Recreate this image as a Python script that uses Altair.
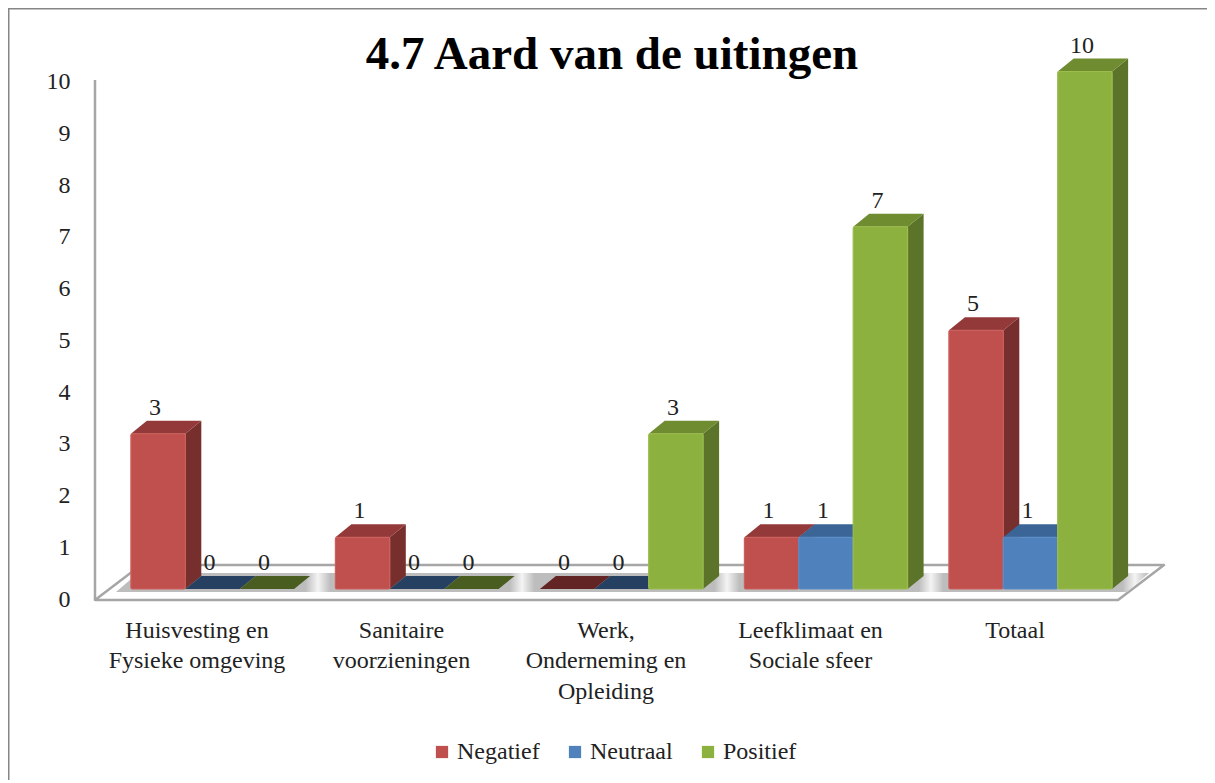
import json
import altair as alt
import pandas as pd

# --- values
TITLE = "4.7 Aard van de uitingen"
CATEGORIES = [
    ["Huisvesting en", "Fysieke omgeving"],
    ["Sanitaire", "voorzieningen"],
    ["Werk,", "Onderneming en", "Opleiding"],
    ["Leefklimaat en", "Sociale sfeer"],
    ["Totaal"],
]
SERIES = ["Negatief", "Neutraal", "Positief"]
NEGATIEF = [3, 1, 0, 1, 5]
NEUTRAAL = [0, 0, 0, 1, 1]
POSITIEF = [0, 0, 3, 7, 10]
VALUES = [NEGATIEF, NEUTRAAL, POSITIEF]

# --- styling
FRONT = ["#C0504D", "#4F81BD", "#8DB13F"]
EDGE = ["#CC5F5B", "#5A8CC6", "#9ABD4C"]
SIDE = ["#772F2D", "#2F5B8C", "#5C7429"]
TOP = ["#93393A", "#3B6497", "#6F8C30"]
ZERO = ["#632523", "#254061", "#4A5D20"]
FONT = "Liberation Serif"
TEXT = "#222222"
LINE = "#A6A6A6"

W, H = 1199, 772
GROUP_PX, UNIT_PX = 204.5, 51.75
BASE_X, BASE_Y = 212.5, 589          # picture position of group 0 / value 0


def ux(p):
    return (p - BASE_X) / GROUP_PX


def uy(p):
    return (BASE_Y - p) / UNIT_PX


xs = alt.Scale(domain=[ux(8), ux(8 + W)], nice=False, zero=False)
ys = alt.Scale(domain=[uy(8 + H), uy(8)], nice=False, zero=False)
BAR = 54.4 / GROUP_PX
DX, DY = 16 / GROUP_PX, 13 / UNIT_PX

fronts, sides, tops = [], [], []
for j, vals in enumerate(VALUES):
    for i, v in enumerate(vals):
        x0 = i + (j - 1.5) * BAR
        x1 = x0 + BAR
        bar = f"{j}-{i}"
        fronts.append(dict(series=SERIES[j], s=j, v=v, x0=x0, x1=x1, base=0,
                           lx=(x0 + x1) / 2 - 3 / GROUP_PX, ly=v + DY))
        sides += [dict(s=j, bar=bar, x=x1, a=0, b=v, v=v),
                  dict(s=j, bar=bar, x=x1 + DX, a=DY, b=v + DY, v=v)]
        tops += [dict(s=j, bar=bar, x=x0, a=v, b=v, z=v == 0),
                 dict(s=j, bar=bar, x=x0 + DX, a=v, b=v + DY, z=v == 0),
                 dict(s=j, bar=bar, x=x1, a=v, b=v + DY, z=v == 0),
                 dict(s=j, bar=bar, x=x1 + DX, a=v + DY, b=v + DY, z=v == 0)]
fronts, sides, tops = map(pd.DataFrame, (fronts, sides, tops))


def parallelogram(lx, rx, shift, y_front, y_back):
    return pd.DataFrame([
        dict(x=ux(lx), a=uy(y_front), b=uy(y_front)),
        dict(x=ux(lx + shift), a=uy(y_front), b=uy(y_back)),
        dict(x=ux(rx), a=uy(y_front), b=uy(y_back)),
        dict(x=ux(rx + shift), a=uy(y_back), b=uy(y_back)),
    ])


floor = parallelogram(95, 1118, 46, 600, 565)
band = parallelogram(116, 1127, 22, 592, 573)

# soft grey floor with light gaps between the bar groups
bx0, bx1 = 116, 1149
stops = [alt.GradientStop(color="#BDBDBD", offset=0)]
for cx in [318, 522, 727, 931, 1135]:
    t = (cx - bx0) / (bx1 - bx0)
    stops += [alt.GradientStop(color="#BDBDBD", offset=t - 0.012),
              alt.GradientStop(color="#F4F4F4", offset=t),
              alt.GradientStop(color="#BDBDBD", offset=min(t + 0.012, 1))]

x_axis = alt.Axis(
    values=list(range(len(CATEGORIES))),
    labelExpr=f"{json.dumps(CATEGORIES)}[datum.value]",
    title=None, domain=False, ticks=False, grid=False, orient="bottom",
    offset=-(H - 610), labelOffset=-16, labelPadding=0, labelFont=FONT,
    labelFontSize=24, labelColor=TEXT, labelLineHeight=30.5, labelBaseline="top",
    labelOverlap=False, labelBound=False, labelFlush=False, labelAlign="center",
)
y_axis = alt.Axis(
    values=list(range(11)), format="d", title=None, domain=False, ticks=False, grid=False,
    offset=-62, labelOffset=10, labelPadding=0, labelFont=FONT, labelFontSize=24,
    labelColor=TEXT, labelOverlap=False, labelBound=False, labelFlush=False,
)


def X(field):
    return alt.X(field, scale=xs, axis=x_axis)


def Y(field):
    return alt.Y(field, scale=ys, axis=y_axis)


def area(df, **mark):
    return alt.Chart(df).mark_area(**mark).encode(x=X("x:Q"), y=Y("a:Q"), y2="b:Q")


floor_layer = area(floor, fill="#FFFFFF", stroke=LINE, strokeWidth=2.5, strokeJoin="round")
band_layer = area(band, color=alt.Gradient(gradient="linear", stops=stops, x1=0, x2=1, y1=0, y2=0))

wall = alt.Chart(pd.DataFrame([dict(x=ux(95), a=uy(80), b=uy(600))])).mark_rule(
    color=LINE, strokeWidth=2.5
).encode(x=X("x:Q"), y=Y("a:Q"), y2="b:Q")

frame = [
    alt.Chart(pd.DataFrame([{"k": 0}])).mark_rule(color="#868686", strokeWidth=3).encode(
        x=alt.value(0), x2=alt.value(W), y=alt.value(0)),
    alt.Chart(pd.DataFrame([{"k": 0}])).mark_rule(color="#868686", strokeWidth=3).encode(
        x=alt.value(0), y=alt.value(0), y2=alt.value(H)),
]

title_layer = alt.Chart(pd.DataFrame([{"t": TITLE}])).mark_text(
    font=FONT, fontSize=47, fontWeight="bold", color="#000000",
    align="center", baseline="alphabetic",
).encode(x=alt.value(604), y=alt.value(61), text="t:N")

layers = frame + [title_layer, floor_layer, band_layer, wall]
for j, name in enumerate(SERIES):
    s_side = sides[(sides.s == j) & (sides.v > 0)]
    s_top = tops[tops.s == j]
    s_front = fronts[(fronts.s == j)]
    layers.append(alt.Chart(s_side).mark_area(color=SIDE[j]).encode(
        x=X("x:Q"), y=Y("a:Q"), y2="b:Q", detail="bar:N"))
    for zero, col in ((False, TOP[j]), (True, ZERO[j])):
        d = s_top[s_top.z == zero]
        if len(d):
            layers.append(alt.Chart(d).mark_area(color=col).encode(
                x=X("x:Q"), y=Y("a:Q"), y2="b:Q", detail="bar:N"))
    pos = s_front[s_front.v > 0]
    layers.append(alt.Chart(pos).mark_rect(cornerRadius=1.5).encode(
        x=X("x0:Q"), x2="x1:Q", y=Y("base:Q"), y2="v:Q",
        color=alt.Color(
            "series:N",
            scale=alt.Scale(domain=SERIES, range=FRONT),
            legend=alt.Legend(
                orient="none", legendX=422, legendY=732, direction="horizontal", title=None,
                symbolType="square", symbolSize=150, symbolStrokeWidth=0, labelFont=FONT,
                labelFontSize=24, labelColor=TEXT, labelOffset=3, columnPadding=23,
                padding=0, values=SERIES,
            ),
        ),
    ))
    layers.append(alt.Chart(pos).mark_rect(fillOpacity=0, stroke=EDGE[j], strokeWidth=1.2, cornerRadius=1.5).encode(
        x=X("x0:Q"), x2="x1:Q", y=Y("base:Q"), y2="v:Q",
    ))

labels = alt.Chart(fronts).mark_text(
    font=FONT, fontSize=24, color=TEXT, baseline="alphabetic", dy=-6
).encode(
    x=X("lx:Q"),
    y=Y("ly:Q"),
    text=alt.Text("v:Q", format="d"),
)
layers.append(labels)

chart = alt.layer(*layers).properties(
    width=W, height=H,
    padding=0,
    autosize=alt.AutoSizeParams(type="none"),
).configure_view(strokeWidth=0)

chart.save("out.html", embed_options={"renderer": "svg", "actions": False})
